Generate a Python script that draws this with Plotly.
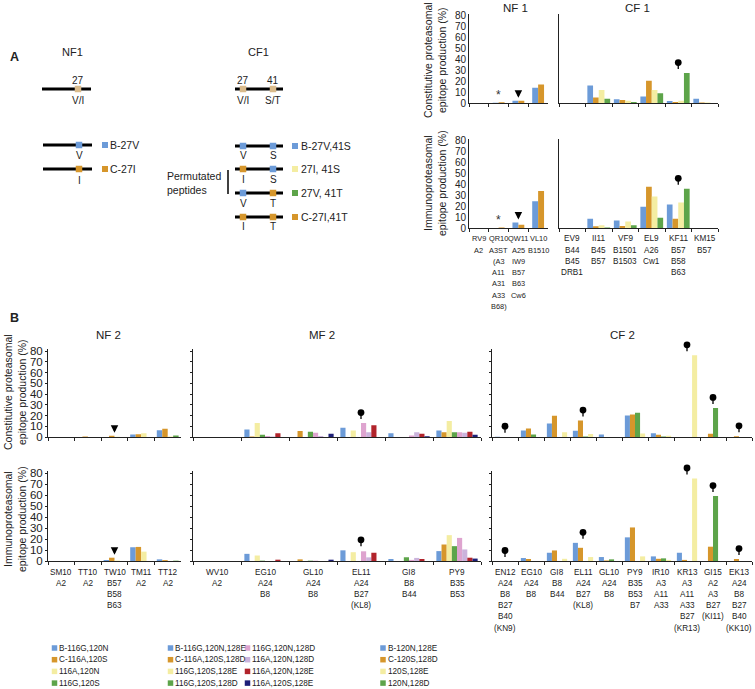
import plotly.graph_objects as go

W, H = 755, 689


def PX(x):
    return x / W


def PY(y):
    return 1 - y / H


BLUE = "#6c9bd8"
ORANGE = "#d6962b"
PALE = "#f4eda2"
GREEN = "#5da44a"
PINK = "#dea4cf"
LAVENDER = "#cbb3dc"
RED = "#b1232b"
NAVY = "#1d1f78"
TAN = "#d9bb8c"
INK = "#222222"

SANS = "Liberation Sans, Arial, Helvetica, sans-serif"

# ======================= DATA =======================
# ---- Panel A : NF1 ----
nf1_categories = ["RV9", "QR10", "QW11", "VL10"]
nf1_tick_labels = ["RV9<br>A2", "QR10<br>A3ST<br>(A3<br>A11<br>A31<br>A33<br>B68)",
                   "QW11<br>A25<br>IW9<br>B57<br>B63<br>Cw6", "VL10<br>B1510"]
nf1_series = ["B-27V", "C-27I"]
nf1_const_b27v = [0.0, 0.3, 2.0, 14.0]
nf1_const_c27i = [0.0, 0.6, 2.0, 17.0]
nf1_immuno_b27v = [0.0, 0.0, 5.0, 24.5]
nf1_immuno_c27i = [0.0, 0.5, 3.0, 34.0]
nf1_marks = [("QR10", "star"), ("QW11", "arrow")]

# ---- Panel A : CF1 ----
cf1_categories = ["EV9", "II11", "VF9", "EL9", "KF11", "KM15"]
cf1_tick_labels = ["EV9<br>B44<br>B45<br>DRB1", "II11<br>B45<br>B57", "VF9<br>B1501<br>B1503",
                   "EL9<br>A26<br>Cw1", "KF11<br>B57<br>B58<br>B63", "KM15<br>B57"]
cf1_series = ["B-27V,41S", "C-27I,41T", "27I, 41S", "27V, 41T"]  # bar order
cf1_const_b = [0.0, 16.0, 3.4, 6.0, 1.8, 4.0]
cf1_const_c = [0.0, 5.0, 2.8, 20.5, 1.0, 0.5]
cf1_const_27i41s = [0.0, 12.0, 2.0, 12.0, 2.0, 0.5]
cf1_const_27v41t = [0.0, 4.0, 1.0, 9.0, 27.5, 0.0]
cf1_immuno_b = [0.0, 8.5, 6.8, 19.5, 21.5, 0.0]
cf1_immuno_c = [0.0, 1.5, 1.8, 38.0, 8.5, 0.0]
cf1_immuno_27i41s = [0.0, 2.5, 6.0, 29.0, 23.5, 0.0]
cf1_immuno_27v41t = [0.0, 0.5, 2.5, 9.5, 36.0, 0.0]
cf1_marks = [("KF11", "pin")]

# ---- Panel B : NF2 ----
nf2_categories = ["SM10", "TT10", "TW10", "TM11", "TT12"]
nf2_tick_labels = ["SM10<br>A2", "TT10<br>A2", "TW10<br>B57<br>B58<br>B63", "TM11<br>A2", "TT12<br>A2"]
nf2_series = ["B-116G,120N", "C-116A,120S", "116A,120N", "116G,120S"]
nf2_const_b = [0.0, 0.0, 0.0, 2.3, 6.2]
nf2_const_c = [0.0, 0.4, 1.2, 2.6, 7.7]
nf2_const_116a120n = [0.0, 0.0, 0.3, 3.4, 0.5]
nf2_const_116g120s = [0.0, 0.0, 0.0, 0.0, 1.3]
nf2_immuno_b = [0.0, 0.0, 0.9, 12.5, 1.5]
nf2_immuno_c = [0.0, 0.0, 3.0, 12.8, 0.8]
nf2_immuno_116a120n = [0.0, 0.0, 0.4, 8.5, 0.0]
nf2_immuno_116g120s = [0.0, 0.0, 0.0, 0.0, 0.3]
nf2_marks = [("TW10", "arrow")]

# ---- Panel B : MF2 ----
mf2_categories = ["WV10", "EG10", "GL10", "EL11", "GI8", "PY9"]
mf2_tick_labels = ["WV10<br>A2", "EG10<br>A24<br>B8", "GL10<br>A24<br>B8",
                   "EL11<br>A24<br>B27<br>(KL8)", "GI8<br>B8<br>B44", "PY9<br>B35<br>B53"]
mf2_series = ["B-116G,120N,128E", "C-116A,120S,128D", "116G,120S,128E", "116G,120S,128D",
              "116G,120N,128D", "116A,120N,128D", "116A,120N,128E", "116A,120S,128E"]
mf2_const_b = [0.0, 7.0, 0.0, 8.5, 3.5, 6.0]
mf2_const_c = [0.0, 0.5, 5.5, 0.0, 0.0, 4.5]
mf2_const_116g120s128e = [0.0, 13.0, 0.0, 6.0, 0.0, 15.0]
mf2_const_116g120s128d = [0.0, 2.0, 5.0, 0.0, 0.0, 4.5]
mf2_const_116g120n128d = [0.0, 1.0, 4.0, 13.0, 1.5, 4.5]
mf2_const_116a120n128d = [0.0, 0.4, 1.0, 4.5, 4.5, 4.0]
mf2_const_116a120n128e = [0.0, 3.5, 0.0, 11.0, 3.0, 5.0]
mf2_const_116a120s128e = [0.0, 0.0, 3.0, 0.0, 0.7, 2.0]
mf2_immuno_b = [0.0, 6.5, 0.0, 9.7, 1.8, 9.0]
mf2_immuno_c = [0.0, 0.0, 1.5, 0.0, 0.0, 15.0]
mf2_immuno_116g120s128e = [0.0, 5.0, 0.0, 8.0, 0.0, 23.5]
mf2_immuno_116g120s128d = [0.0, 0.3, 0.3, 0.0, 3.4, 13.5]
mf2_immuno_116g120n128d = [0.0, 0.0, 0.3, 8.8, 1.0, 21.0]
mf2_immuno_116a120n128d = [0.0, 0.0, 0.0, 3.3, 2.8, 10.5]
mf2_immuno_116a120n128e = [0.0, 1.2, 0.0, 7.5, 1.8, 3.0]
mf2_immuno_116a120s128e = [0.0, 0.0, 1.2, 0.0, 0.0, 2.2]
mf2_marks = [("EL11", "pin")]

# ---- Panel B : CF2 ----
cf2_categories = ["EN12", "EG10", "GI8", "EL11", "GL10", "PY9", "IR10", "KR13", "GI15", "EK13"]
cf2_tick_labels = ["EN12<br>A24<br>B8<br>B27<br>B40<br>(KN9)", "EG10<br>A24<br>B8", "GI8<br>B8<br>B44",
                   "EL11<br>A24<br>B27<br>(KL8)", "GL10<br>A24<br>B8", "PY9<br>B35<br>B53<br>B7",
                   "IR10<br>A3<br>A11<br>A33", "KR13<br>A3<br>A11<br>A33<br>B27<br>(KR13)",
                   "GI15<br>A2<br>A3<br>B27<br>(KI11)", "EK13<br>A24<br>B8<br>B27<br>B40<br>(KK10)"]
cf2_series = ["B-120N,128E", "C-120S,128D", "120N,128D", "120S,128E"]  # bar order
cf2_legend_order = ["B-120N,128E", "C-120S,128D", "120S,128E", "120N,128D"]
cf2_const_b = [0.3, 6.0, 12.6, 5.7, 2.4, 20.0, 3.6, 0.0, 0.0, 0.0]
cf2_const_c = [0.0, 8.0, 19.8, 15.3, 0.0, 21.0, 2.0, 0.0, 3.0, 0.6]
cf2_const_120n128d = [0.0, 2.4, 0.0, 0.5, 0.0, 22.5, 0.5, 0.0, 27.0, 0.0]
cf2_const_120s128e = [0.0, 0.0, 4.5, 2.7, 0.0, 3.3, 1.2, 76.0, 0.0, 0.0]
cf2_immuno_b = [0.0, 2.7, 7.5, 16.5, 3.6, 21.5, 4.2, 7.5, 0.0, 0.0]
cf2_immuno_c = [0.0, 1.8, 9.6, 12.0, 0.5, 30.5, 2.0, 1.0, 13.0, 1.8]
cf2_immuno_120n128d = [0.0, 0.0, 0.0, 0.0, 1.5, 0.0, 2.4, 0.0, 59.0, 0.0]
cf2_immuno_120s128e = [0.0, 0.0, 2.0, 3.6, 0.0, 4.2, 1.0, 75.0, 0.0, 0.0]
cf2_marks = [("EN12", "pin"), ("EL11", "pin"), ("KR13", "pin"), ("GI15", "pin"), ("EK13", "pin")]

# ======================= STYLE / LAYOUT =======================
nf1_colors = [BLUE, ORANGE]
cf1_colors = [BLUE, ORANGE, PALE, GREEN]
nf2_colors = [BLUE, ORANGE, PALE, GREEN]
mf2_colors = [BLUE, ORANGE, PALE, GREEN, PINK, LAVENDER, RED, NAVY]
cf2_colors = [BLUE, ORANGE, GREEN, PALE]

A_CONST = dict(base=103, scale=1.0875, yfont=10)
A_IMM = dict(base=228, scale=1.0875, yfont=10)
B_CONST = dict(base=437, scale=1.075, yfont=11.5)
B_IMM = dict(base=561, scale=1.10, yfont=11.5)

panels = [
    dict(x0=469, x1=548, cats=nf1_categories, ticktext=None, names=nf1_series, colors=nf1_colors,
         values=[nf1_const_b27v, nf1_const_c27i], gap=0.4, ylabels=True, marks=nf1_marks, ticks=False, **A_CONST),
    dict(x0=559, x1=718, cats=cf1_categories, ticktext=None, names=cf1_series, colors=cf1_colors,
         values=[cf1_const_b, cf1_const_c, cf1_const_27i41s, cf1_const_27v41t], gap=0.14, ylabels=False,
         marks=cf1_marks, ticks=False, **A_CONST),
    dict(x0=469, x1=548, cats=nf1_categories, ticktext=nf1_tick_labels, names=nf1_series, colors=nf1_colors,
         values=[nf1_immuno_b27v, nf1_immuno_c27i], gap=0.4, ylabels=True, marks=nf1_marks, ticks=False,
         catfont=7.4, **A_IMM),
    dict(x0=559, x1=718, cats=cf1_categories, ticktext=cf1_tick_labels, names=cf1_series, colors=cf1_colors,
         values=[cf1_immuno_b, cf1_immuno_c, cf1_immuno_27i41s, cf1_immuno_27v41t], gap=0.14, ylabels=False,
         marks=cf1_marks, ticks=False, **A_IMM),
    dict(x0=48, x1=181, cats=nf2_categories, ticktext=None, names=nf2_series, colors=nf2_colors,
         values=[nf2_const_b, nf2_const_c, nf2_const_116a120n, nf2_const_116g120s], gap=0.18, ylabels=True,
         marks=nf2_marks, ticks=True, **B_CONST),
    dict(x0=193, x1=481, cats=mf2_categories, ticktext=None, names=mf2_series, colors=mf2_colors,
         values=[mf2_const_b, mf2_const_c, mf2_const_116g120s128e, mf2_const_116g120s128d,
                 mf2_const_116g120n128d, mf2_const_116a120n128d, mf2_const_116a120n128e, mf2_const_116a120s128e],
         gap=0.14, ylabels=False, marks=mf2_marks, ticks=True, **B_CONST),
    dict(x0=492, x1=752, cats=cf2_categories, ticktext=None, names=cf2_series, colors=cf2_colors,
         values=[cf2_const_b, cf2_const_c, cf2_const_120n128d, cf2_const_120s128e], gap=0.22, ylabels=False,
         marks=cf2_marks, ticks=True, **B_CONST),
    dict(x0=48, x1=181, cats=nf2_categories, ticktext=nf2_tick_labels, names=nf2_series, colors=nf2_colors,
         values=[nf2_immuno_b, nf2_immuno_c, nf2_immuno_116a120n, nf2_immuno_116g120s], gap=0.18, ylabels=True,
         marks=nf2_marks, ticks=True, **B_IMM),
    dict(x0=193, x1=481, cats=mf2_categories, ticktext=mf2_tick_labels, names=mf2_series, colors=mf2_colors,
         values=[mf2_immuno_b, mf2_immuno_c, mf2_immuno_116g120s128e, mf2_immuno_116g120s128d,
                 mf2_immuno_116g120n128d, mf2_immuno_116a120n128d, mf2_immuno_116a120n128e, mf2_immuno_116a120s128e],
         gap=0.14, ylabels=False, marks=mf2_marks, ticks=True, **B_IMM),
    dict(x0=492, x1=752, cats=cf2_categories, ticktext=cf2_tick_labels, names=cf2_series, colors=cf2_colors,
         values=[cf2_immuno_b, cf2_immuno_c, cf2_immuno_120n128d, cf2_immuno_120s128e], gap=0.22, ylabels=False,
         marks=cf2_marks, ticks=True, **B_IMM),
]

YMAX = 82
LINE_STEP = 11.2

fig = go.Figure()
layout_axes = {}
annotations = []
shapes = []

for k, p in enumerate(panels, start=1):
    xr = "x" if k == 1 else f"x{k}"
    yr = "y" if k == 1 else f"y{k}"
    n = len(p["values"])
    w = (1 - p["gap"]) / n
    for i, (name, color, vals) in enumerate(zip(p["names"], p["colors"], p["values"])):
        fig.add_trace(go.Bar(
            x=p["cats"], y=vals, name=name, xaxis=xr, yaxis=yr,
            width=w, offset=-(1 - p["gap"]) / 2 + i * w,
            marker=dict(color=color, line=dict(width=0)), showlegend=False))
    top = p["base"] - YMAX * p["scale"]
    layout_axes["xaxis" if k == 1 else f"xaxis{k}"] = dict(
        domain=[PX(p["x0"]), PX(p["x1"])], anchor=yr, type="category",
        categoryorder="array", categoryarray=p["cats"], range=[-0.5, len(p["cats"]) - 0.5],
        showline=True, linecolor=INK, linewidth=1, ticks="outside", tickson="boundaries",
        ticklen=3, tickwidth=1, tickcolor=INK, showgrid=False, zeroline=False,
        showticklabels=False, automargin=False, fixedrange=True)
    layout_axes["yaxis" if k == 1 else f"yaxis{k}"] = dict(
        domain=[PY(p["base"]), PY(top)], anchor=xr, range=[0, YMAX],
        showline=True, linecolor=INK, linewidth=1,
        ticks="outside" if p["ticks"] else "", ticklen=2, tickcolor=INK,
        tick0=0, dtick=10, showticklabels=p["ylabels"],
        tickfont=dict(family=SANS, size=p["yfont"], color=INK),
        showgrid=False, zeroline=False, automargin=False, fixedrange=True)
    # category labels (one text line per row, on the category positions of the axis)
    if p["ticktext"] is not None:
        for cat, txt in zip(p["cats"], p["ticktext"]):
            for j, line in enumerate(txt.split("<br>")):
                annotations.append(dict(x=cat, xref=xr, yref="paper", y=PY(p["base"] + 11 + j * LINE_STEP),
                                        text=line, showarrow=False, xanchor="center", yanchor="middle",
                                        font=dict(family=SANS, size=p.get("catfont", 8.2), color=INK)))
    # markers above groups (pins, arrows, asterisks) placed on top of the tallest bar
    for cat, kind in p["marks"]:
        idx = p["cats"].index(cat)
        m = max(v[idx] for v in p["values"])
        if kind == "pin":
            annotations.append(dict(x=cat, y=m, xref=xr, yref=yr, text="",
                                    showarrow=True, arrowside="start", startarrowhead=6,
                                    startarrowsize=1.3, arrowwidth=1.3, arrowcolor="black",
                                    ax=0, ay=-12, standoff=4, startstandoff=0))
        elif kind == "arrow":
            annotations.append(dict(x=cat, y=m, xref=xr, yref=yr, text="",
                                    showarrow=True, arrowhead=2, arrowsize=1, arrowwidth=1.5,
                                    arrowcolor="black", ax=0, ay=-11, standoff=3))
        else:
            annotations.append(dict(x=cat, y=m, xref=xr, yref=yr, text="*", showarrow=False,
                                    yshift=7, font=dict(size=12, color="#333", family=SANS)))


def label(x, y, text, size=10.5, xanchor="center", color=INK, angle=0, align="center"):
    annotations.append(dict(xref="paper", yref="paper", x=PX(x), y=PY(y), text=text,
                            showarrow=False, xanchor=xanchor, yanchor="middle", textangle=angle,
                            align=align, font=dict(family=SANS, size=size, color=color)))


def hline(x0, x1, y, width=3.0):
    shapes.append(dict(type="line", xref="paper", yref="paper", x0=PX(x0), x1=PX(x1),
                       y0=PY(y), y1=PY(y), line=dict(color="black", width=width)))


def vline(x, y0, y1, width=1.5):
    shapes.append(dict(type="line", xref="paper", yref="paper", x0=PX(x), x1=PX(x),
                       y0=PY(y0), y1=PY(y1), line=dict(color="black", width=width)))


def square(cx, cy, color, s=6.5):
    shapes.append(dict(type="rect", xref="paper", yref="paper", x0=PX(cx - s / 2), x1=PX(cx + s / 2),
                       y0=PY(cy + s / 2), y1=PY(cy - s / 2), fillcolor=color, line=dict(width=0)))


# panel letters
label(14, 57, "<b>A</b>", size=12.5)
label(14, 318, "<b>B</b>", size=12.5)

# panel titles
label(515, 8, "NF 1", 11.5)
label(637, 8, "CF 1", 11.5)
label(108, 335, "NF 2", 11.5)
label(322, 335, "MF 2", 11.5)
label(622, 335, "CF 2", 11.5)

# y-axis titles
CONST_T = "Constitutive proteasomal<br>epitope production (%)"
IMM_T = "Immunoproteasomal<br>epitope production (%)"
label(435, 60, CONST_T, 10.5, angle=-90)
label(435, 183, IMM_T, 10.5, angle=-90)
label(15, 392, CONST_T, 10.5, angle=-90)
label(15, 519, IMM_T, 10.5, angle=-90)

# ---- Panel A diagrams ----
label(72, 52, "NF1", 11)
label(258, 52, "CF1", 11)
hline(42, 91, 89)
square(78, 89, TAN)
label(78, 80, "27", 10)
label(78, 101, "V/I", 10)
hline(235, 283, 89)
for cx, num, aa in [(243, "27", "V/I"), (273, "41", "S/T")]:
    square(cx, 89, TAN)
    label(cx, 80, num, 10)
    label(cx, 101, aa, 10)

for y, color, letter, name in [(145, BLUE, "V", nf1_series[0]), (169, ORANGE, "I", nf1_series[1])]:
    hline(43, 92, y)
    square(79, y, color)
    label(79, y + 11, letter, 10)
    square(105, y, color, 6)
    label(108, y, name, 10.5, xanchor="left")

cf1_rows = [
    (146, BLUE, "V", BLUE, "S", BLUE, "B-27V,41S"),
    (169, ORANGE, "I", BLUE, "S", PALE, "27I, 41S"),
    (193, BLUE, "V", ORANGE, "T", GREEN, "27V, 41T"),
    (217, ORANGE, "I", ORANGE, "T", ORANGE, "C-27I,41T"),
]
for y, c1, l1, c2, l2, lc, name in cf1_rows:
    hline(235, 283, y)
    square(243, y, c1)
    square(273, y, c2)
    label(243, y + 10, l1, 10)
    label(273, y + 10, l2, 10)
    square(295, y, lc, 6)
    label(299, y, name, 10.5, xanchor="left")
label(165, 183, "Permutated<br>peptides", 10.5, xanchor="left", align="left")
vline(228, 170, 194)

# ---- bottom legends ----
legend_cols = [
    (54.5, nf2_series, nf2_colors),
    (170.5, mf2_series[:4], mf2_colors[:4]),
    (247.5, mf2_series[4:], mf2_colors[4:]),
    (383, cf2_legend_order, [BLUE, ORANGE, PALE, GREEN]),
]
for sx, names, colors in legend_cols:
    for j, (nm, col) in enumerate(zip(names, colors)):
        yy = 648 + j * 11.7
        square(sx, yy, col, 5.5)
        label(sx + 2.5, yy, nm, 8.2, xanchor="left")

fig.update_layout(
    width=W, height=H, margin=dict(l=0, r=0, t=0, b=0, autoexpand=False),
    paper_bgcolor="white", plot_bgcolor="white", showlegend=False,
    barmode="overlay", annotations=annotations, shapes=shapes,
    font=dict(family=SANS, color=INK), **layout_axes)

fig.write_html("out.html", config={"displayModeBar": False, "staticPlot": True},
               post_script="document.body.style.margin='0px';")
